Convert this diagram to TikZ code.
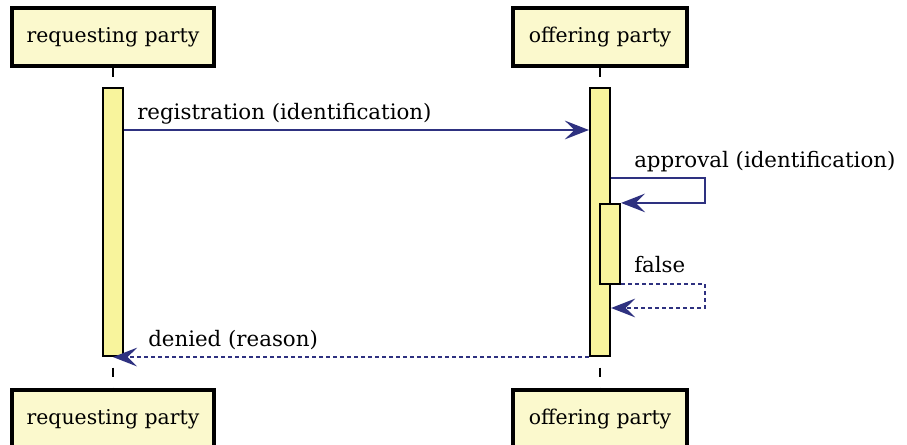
\documentclass[tikz,border=0pt]{standalone}
\usepackage{fontspec}
\setmainfont{DejaVu Serif}
\usetikzlibrary{arrows.meta,positioning}
\definecolor{boxfill}{HTML}{FBF9CD}
\definecolor{actfill}{HTML}{F8F49C}
\definecolor{msgblue}{HTML}{2E3180}

\begin{document}
\begin{tikzpicture}[x=0.75pt,y=-0.75pt,>={Stealth[length=18pt,width=14pt,inset=7pt]},font=\fontsize{16}{19}\selectfont]
\tikzstyle{party} = [rectangle, draw, line width=2.4pt, fill=boxfill, minimum height=43.5pt, inner sep=0pt, font=\fontsize{15.3}{18}\selectfont]
\tikzstyle{act} = [rectangle, draw, line width=1.6pt, fill=actfill, minimum width=15pt, inner sep=0pt]
\tikzstyle{life} = [line width=1.5pt, dash pattern=on 6.75pt off 8.25pt]
\tikzstyle{msg} = [->, draw=msgblue, line width=1.2pt]
\tikzstyle{reply} = [msg, dash pattern=on 3pt off 2.25pt]
\tikzstyle{lbl} = [anchor=base west, inner sep=0pt]
\useasboundingbox (0,0) rectangle (907,445);
% parties
\node[party, minimum width=151.5pt] (reqtop) at (113,37) {requesting party};
\node[party, minimum width=130.5pt] (offtop) at (600,37) {offering party};
\node[party, minimum width=151.5pt] (reqbot) at (113,419) {requesting party};
\node[party, minimum width=130.5pt] (offbot) at (600,419) {offering party};
% lifelines
\draw[life] (reqtop) -- (reqbot);
\draw[life] (offtop) -- (offbot);
% activations
\node[act, minimum height=201pt] (reqact) at (113,222) {};
\node[act, minimum height=201pt] (offact) at (600,222) {};
\node[act, minimum height=60pt] (chkact) at (610,244) {};
\coordinate (turnA) at (705,178);
\coordinate (turnB) at (705,284);
% messages
\draw[msg] (reqact.east |- 0,130) -- (offact.west |- 0,130);
\node[lbl] (regl) at (137,120) {registration (identification)};
\draw[msg] (offact.east |- turnA) -- (turnA) |- (chkact.north east);
\node[lbl] (apprl) at (634,168) {approval (identification)};
\draw[reply] (chkact.east |- turnB) -- (turnB) |- (offact.east |- 0,308);
\node[lbl] (falsel) at (634,273) {false};
\draw[reply] (offact.south west) -- (reqact.south);
\node[lbl] (denl) at (148,347) {denied (reason)};
\end{tikzpicture}
\end{document}
